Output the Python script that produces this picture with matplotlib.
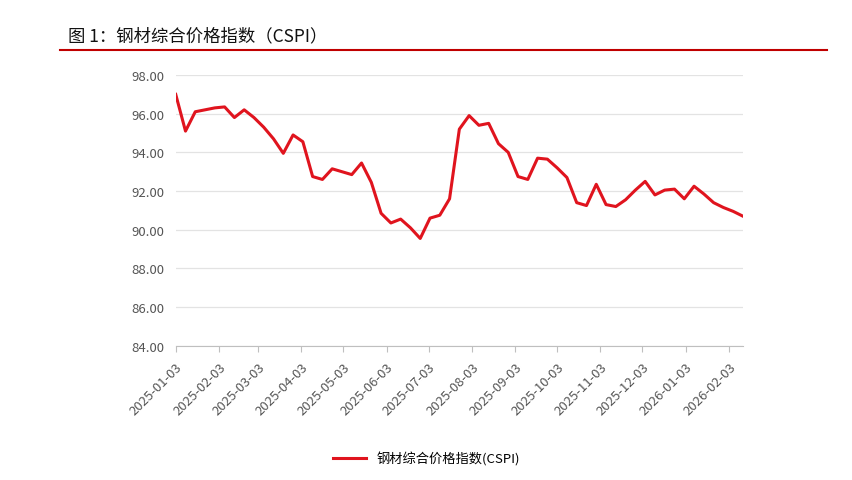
import matplotlib
matplotlib.use("Agg")
import matplotlib.pyplot as plt
import pandas as pd

plt.rcParams['font.family'] = ['Noto Sans CJK SC', 'DejaVu Sans']

values = [97.0, 95.1, 96.1, 96.2, 96.3, 96.35, 95.8, 96.2, 95.8, 95.3,
          94.7, 93.95, 94.9, 94.55, 92.75, 92.6, 93.15, 93.0, 92.85, 93.45,
          92.45, 90.85, 90.35, 90.55, 90.1, 89.55, 90.6, 90.75, 91.6, 95.2,
          95.9, 95.4, 95.5, 94.45, 94.0, 92.75, 92.6, 93.7, 93.65, 93.2,
          92.7, 91.4, 91.25, 92.35, 91.3, 91.2, 91.55, 92.05, 92.5, 91.8,
          92.05, 92.1, 91.6, 92.25, 91.85, 91.4, 91.15, 90.95, 90.7]
dates = pd.date_range("2025-01-03", periods=len(values), freq="7D")
tick_dates = pd.to_datetime(["2025-%02d-03" % m for m in range(1, 13)] + ["2026-01-03", "2026-02-03"])
series_name = "钢材综合价格指数(CSPI)"
title = "图 1：钢材综合价格指数（CSPI）"

fig = plt.figure(figsize=(8.53, 4.81), dpi=100)
fig.text(0.08, 0.925, title, fontsize=12.5, color='#111111', va='center')
fig.add_artist(plt.Line2D([0.07, 0.97], [0.895, 0.895], color='#c00000', lw=1.5))

ax = fig.add_axes([0.206, 0.279, 0.665, 0.563])
ax.plot(dates, values, color='#e0141e', lw=2.2, label=series_name)
ax.set_ylim(84, 98)
ax.set_yticks(range(84, 99, 2))
ax.set_yticklabels(["%.2f" % v for v in range(84, 99, 2)], fontsize=9.5, color='#555555')
ax.set_xlim(dates[0], dates[-1])
ax.set_xticks(tick_dates)
ax.set_xticklabels([d.strftime("%Y-%m-%d") for d in tick_dates], rotation=45, ha='right',
                   rotation_mode='anchor', fontsize=9.5, color='#555555')
ax.grid(axis='y', color='#e3e3e3', lw=0.9)
ax.set_axisbelow(True)
for s in ['top', 'right', 'left']:
    ax.spines[s].set_visible(False)
ax.spines['bottom'].set_color('#bfbfbf')
ax.tick_params(axis='y', length=0, pad=8)
ax.tick_params(axis='x', length=4, color='#bfbfbf', pad=6)
fig.legend(loc='center', bbox_to_anchor=(0.5, 0.045), frameon=False, fontsize=9.5,
           handlelength=2.5)
fig.savefig("out.png", dpi=100)
